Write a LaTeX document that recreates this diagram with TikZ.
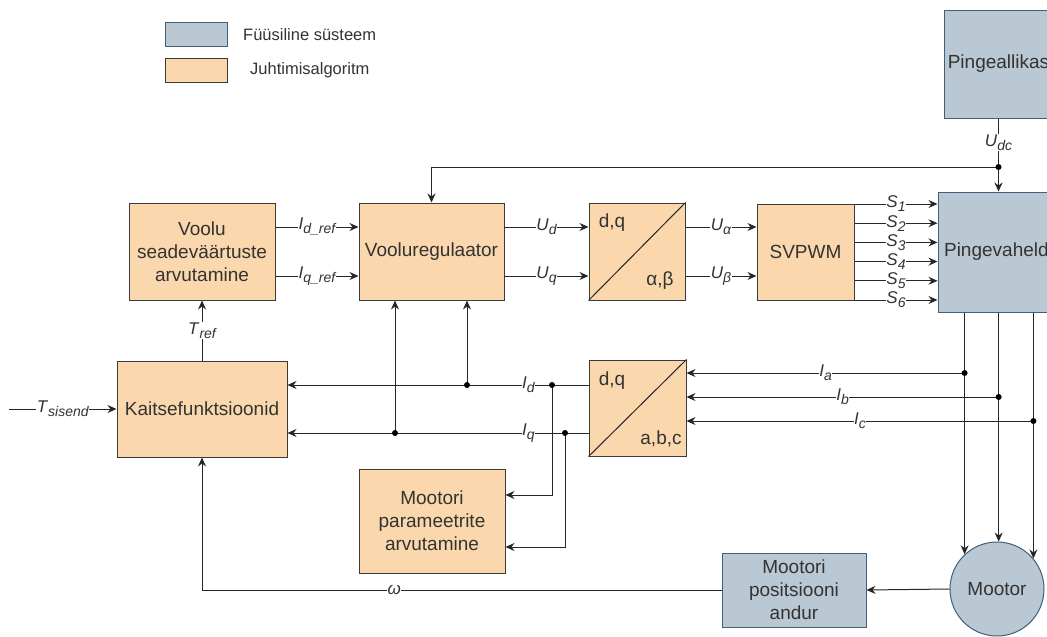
\documentclass[tikz,border=0pt]{standalone}
\usepackage{fontspec}
\setmainfont{Liberation Sans}
\usetikzlibrary{arrows.meta,calc}
\definecolor{bfill}{HTML}{BAC8D3}
\definecolor{bdraw}{HTML}{3F5F7A}
\definecolor{ofill}{HTML}{FAD7AC}
\definecolor{odraw}{HTML}{3A3A3A}
\definecolor{txt}{HTML}{333333}
\newcommand\lb[2]{\textit{#1}\raisebox{-4pt}{\fontsize{14}{14}\selectfont\itshape #2}}
\tikzset{
 base/.style={draw, line width=1pt, text=txt, font=\fontsize{19}{23}\selectfont, align=center, inner sep=0pt},
 phys/.style={base, fill=bfill, draw=bdraw},
 ctrl/.style={base, fill=ofill, draw=odraw},
 wire/.style={line width=1pt, draw=black!85},
 arr/.style={wire, -{Stealth[length=9pt,width=8pt,inset=3pt]}},
 lab/.style={fill=white, inner sep=0.5pt, text=txt, font=\fontsize{17}{17}\selectfont},
 jdot/.style={circle, fill=black, inner sep=0pt, minimum size=6pt},
 legtext/.style={anchor=west, inner sep=0pt, text=txt, font=\fontsize{16.5}{18}\selectfont},
 intext/.style={inner sep=0pt, text=txt, font=\fontsize{19}{23}\selectfont},
}
\begin{document}
\begin{tikzpicture}[x=1pt,y=-1pt]
\useasboundingbox (0,0) rectangle (1047,637);
\clip (0,0) rectangle (1047,637);
\fill[white] (0,0) rectangle (1047,637);

% legend
\node[phys, minimum width=62pt, minimum height=24pt] (leg1) at (196,34.5) {};
\node[legtext] (leg1t) at (243,35) {Füüsiline süsteem};
\node[ctrl, minimum width=62pt, minimum height=24pt] (leg2) at (196,70) {};
\node[legtext] (leg2t) at (250,70) {Juhtimisalgoritm};

% blocks
\node[phys, minimum width=109pt, minimum height=108pt] (src) at (998.5,64) {Pingeallikas};
\node[phys, minimum width=121pt, minimum height=120pt] (pv) at (998.5,252) {Pingevaheldi};
\node[ctrl, minimum width=146pt, minimum height=97pt] (vs) at (202,251.5) {Voolu\\seadeväärtuste\\arvutamine};
\node[ctrl, minimum width=145pt, minimum height=97pt] (vr) at (431.5,251.5) {Vooluregulaator};
\node[ctrl, minimum width=96pt, minimum height=97pt] (t1) at (637,251.5) {};
\node[ctrl, minimum width=97pt, minimum height=96pt] (sv) at (805.5,252) {SVPWM};
\node[ctrl, minimum width=170pt, minimum height=96pt] (kf) at (202,409) {Kaitsefunktsioonid};
\node[ctrl, minimum width=97pt, minimum height=96pt] (t2) at (637.5,408) {};
\node[ctrl, minimum width=146pt, minimum height=104pt] (mp) at (432,521) {Mootori\\parameetrite\\arvutamine};
\node[phys, minimum width=144pt, minimum height=74pt] (an) at (794,590) {Mootori\\positsiooni\\andur};
\node[phys, circle, minimum size=94pt] (mot) at (997,589) {Mootor};

% transform block internals
\draw[wire] (t1.south west) -- (t1.north east);
\node[intext] (t1a) at (612,223) {d,q};
\node[intext] (t1b) at (660,281) {α,β};
\draw[wire] (t2.south west) -- (t2.north east);
\node[intext] (t2a) at (612,381) {d,q};
\node[intext] (t2b) at (661,439) {a,b,c};

% Udc and feedback
\coordinate (dU) at (998.5,167);
\draw[wire] (src.south) -- node[lab]{\lb{U}{dc}} (dU);
\draw[arr] (dU) -- (pv.north);
\draw[arr] (dU) -| (vr.north);
\node[jdot] (dUd) at (dU) {};

% references
\coordinate (r1) at (0,227);
\coordinate (r2) at (0,276);
\draw[arr] (vs.east |- r1) -- node[lab]{\lb{I}{d\_ref}} (vr.west |- r1);
\draw[arr] (vs.east |- r2) -- node[lab]{\lb{I}{q\_ref}} (vr.west |- r2);
\draw[arr] (vr.east |- r1) -- node[lab]{\lb{U}{d}} (t1.west |- r1);
\draw[arr] (vr.east |- r2) -- node[lab]{\lb{U}{q}} (t1.west |- r2);
\draw[arr] (t1.east |- r1) -- node[lab]{\lb{U}{α}} (sv.west |- r1);
\draw[arr] (t1.east |- r2) -- node[lab]{\lb{U}{β}} (sv.west |- r2);

% switching signals
\foreach \i [evaluate=\i as \yy using 204+(\i-1)*19.2] in {1,...,6} {
  \coordinate (s\i) at (0,\yy);
  \draw[arr] (sv.east |- s\i) -- node[lab]{\lb{S}{\i}} (pv.west |- s\i);
}

% torque
\draw[arr] (kf.north) -- node[lab]{\lb{T}{ref}} (vs.south);
\coordinate (tin) at (9,409);
\draw[arr] (tin) -- node[lab]{\lb{T}{sisend}} (kf.west);

% dq currents
\coordinate (yd) at (0,385);
\coordinate (yq) at (0,433);
\draw[arr] (t2.west |- yd) -- node[lab,pos=0.2]{\lb{I}{d}} (kf.east |- yd);
\draw[arr] (t2.west |- yq) -- node[lab,pos=0.2]{\lb{I}{q}} (kf.east |- yq);
\coordinate (j1) at (467,385);
\coordinate (j2) at (395,433);
\coordinate (j3) at (552,385);
\coordinate (j4) at (565,433);
\draw[arr] (j1) -- (vr.south -| j1);
\draw[arr] (j2) -- (vr.south -| j2);
\coordinate (m1) at (0,495);
\coordinate (m2) at (0,547);
\draw[arr] (j3) |- (mp.east |- m1);
\draw[arr] (j4) |- (mp.east |- m2);
\node[jdot] (j1d) at (j1) {};
\node[jdot] (j2d) at (j2) {};
\node[jdot] (j3d) at (j3) {};
\node[jdot] (j4d) at (j4) {};

% phase lines
\draw[arr] (pv.south -| mot.133) -- (mot.133);
\draw[arr] (pv.south -| mot.88) -- (mot.88);
\draw[arr] (pv.south -| mot.40) -- (mot.40);
\coordinate (ja) at ($(mot.133)+(0,-181.6)$);
\coordinate (ya) at (0,373);
\coordinate (yb) at (0,397);
\coordinate (yc) at (0,421);
\coordinate (pa) at (mot.133 |- ya);
\coordinate (pb) at (mot.88 |- yb);
\coordinate (pc) at (mot.40 |- yc);
\draw[arr] (pa) -- node[lab]{\lb{I}{a}} (t2.east |- pa);
\draw[arr] (pb) -- node[lab]{\lb{I}{b}} (t2.east |- pb);
\draw[arr] (pc) -- node[lab]{\lb{I}{c}} (t2.east |- pc);
\node[jdot] (pad) at (pa) {};
\node[jdot] (pbd) at (pb) {};
\node[jdot] (pcd) at (pc) {};

% position sensor
\draw[arr] (mot.west) -- (an.east);
\draw[arr] (an.west) -| node[lab,pos=0.315]{\textit{ω}} (kf.south);
\end{tikzpicture}
\end{document}
